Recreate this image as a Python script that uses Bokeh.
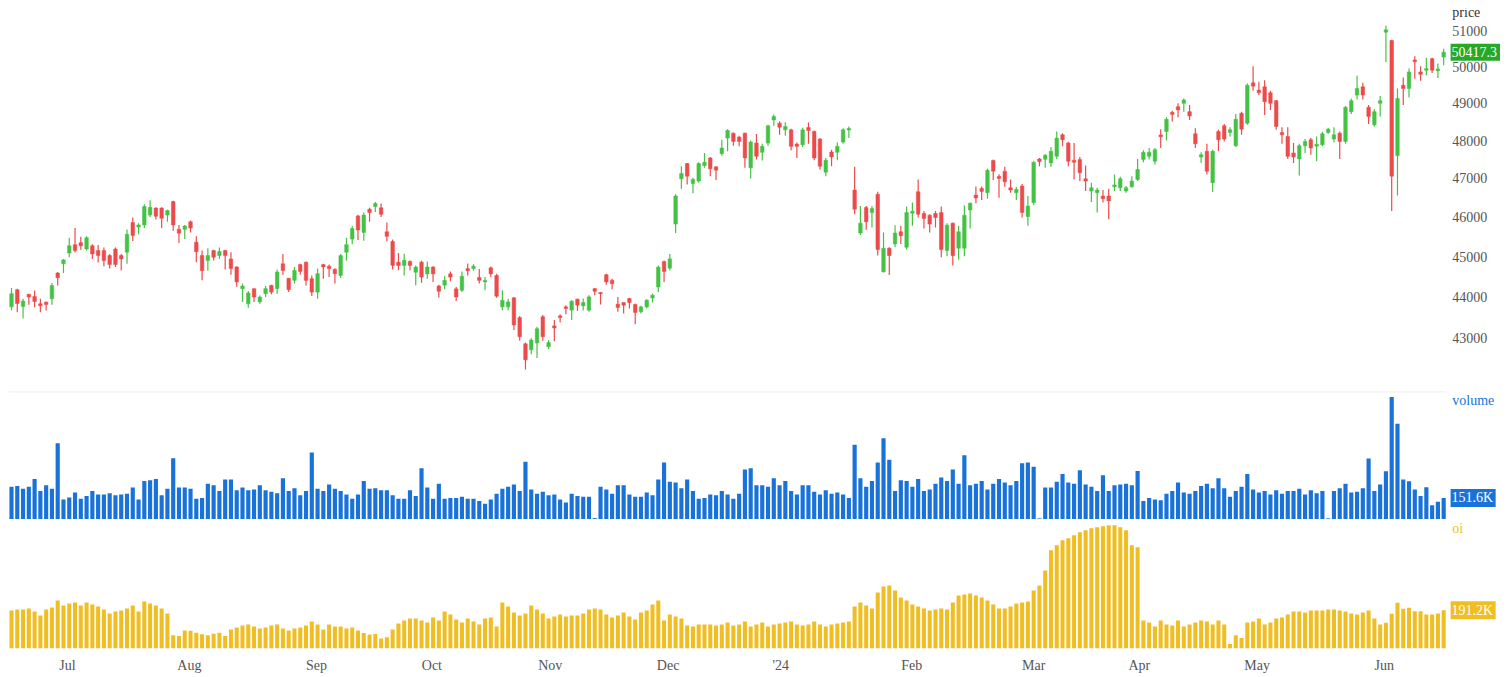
from bokeh.plotting import figure
from bokeh.layouts import column
from bokeh.models import Range1d, FixedTicker, ColumnDataSource
from bokeh.core.properties import value
from bokeh.embed import file_html
from bokeh.resources import INLINE

# ---------------- data ----------------
opens = [
    43760, 44180, 43770, 44065, 44015, 43835, 43875, 43960, 44590, 44820,
    45090, 45300, 45350, 45190, 45270, 45150, 45150, 45025, 45190, 45025,
    45110, 45860, 45745, 45800, 46050, 46230, 46230, 46050, 46400, 45690,
    45690, 45880, 45360, 45025, 44900, 45150, 45025, 45150, 44940, 44740,
    44205, 43835, 44205, 43880, 44080, 44285, 44205, 44820, 44460, 44410,
    44800, 44860, 44450, 44120, 44800, 44760, 44680, 44530, 45110, 45440,
    46030, 45610, 46200, 46270, 46240, 45625, 45380, 44860, 44780, 44880,
    44610, 44860, 44570, 44740, 44270, 44290, 44570, 44200, 44165, 44700,
    44700, 44480, 44370, 44720, 44530, 43760, 43760, 43980, 43500, 42870,
    42730, 42890, 43520, 42800, 43300, 43540, 43760, 43680, 43946, 43784,
    43680, 44205, 44110, 44548, 44410, 43825, 43865, 43962, 43817, 43640,
    43760, 43978, 44246, 44877, 44712, 45820, 46989, 47389, 46868, 46929,
    47337, 47537, 47302, 47650, 48064, 48197, 48091, 48197, 47276, 47932,
    47686, 47932, 48553, 48464, 48286, 48286, 47905, 47888, 48348, 48242,
    48038, 47163, 47694, 47686, 47958, 48280, 46696, 45593, 46243, 46115,
    46584, 44620, 45209, 45318, 45626, 45234, 46100, 46653, 46090, 46048,
    46090, 46115, 45151, 45845, 45209, 45209, 46183, 46567, 46739, 46627,
    47467, 47050, 47189, 46756, 46627, 46799, 46013, 46371, 47511, 47502,
    47406, 47580, 48153, 47932, 47476, 47493, 46989, 46670, 46627, 46541,
    46541, 46780, 46756, 46670, 46782, 46972, 47493, 47580, 47450, 48150,
    48242, 48760, 48912, 49002, 48777, 48179, 47563, 47712, 46886, 48242,
    48393, 48215, 47861, 48732, 48464, 49564, 49364, 49455, 49292, 49074,
    48215, 48109, 47667, 47511, 47862, 48020, 47850, 47888, 48215, 48038,
    48197, 47976, 48777, 49228, 49455, 48893, 48420, 49002, 50981, 50746,
    47600, 49500, 49410, 50200, 49866, 49912, 50235, 49900, 50280,
]
highs = [
    44220, 44205, 43960, 44080, 44160, 43960, 43890, 44345, 44615, 44940,
    45475, 45720, 45500, 45515, 45310, 45290, 45230, 45065, 45230, 45065,
    45680, 45990, 45840, 46330, 46430, 46250, 46250, 46190, 46420, 45800,
    45800, 45910, 45510, 45150, 45210, 45170, 45230, 45170, 45110, 44760,
    44330, 44150, 44210, 44040, 44270, 44300, 44680, 45065, 44470, 44740,
    44820, 44880, 44530, 44700, 44820, 44800, 44710, 45065, 45475, 45770,
    46060, 46115, 46240, 46390, 46350, 45860, 45430, 45090, 45070, 44900,
    44780, 44900, 44880, 44760, 44300, 44510, 44630, 44245, 44630, 44830,
    44810, 44690, 44490, 44750, 44570, 44165, 43960, 44000, 43540, 42900,
    43000, 43280, 43560, 42960, 43440, 43580, 43800, 43920, 43962, 43962,
    44043, 44220, 44125, 44572, 44450, 44003, 43865, 43978, 43841, 43784,
    43946, 44083, 44778, 44902, 45067, 46584, 47319, 47406, 47015, 47424,
    47667, 47563, 47319, 48020, 48304, 48215, 48126, 48215, 48003, 48171,
    47914, 48420, 48697, 48518, 48491, 48313, 47950, 48340, 48482, 48268,
    48064, 47537, 47756, 47950, 48331, 48375, 47302, 46285, 46285, 46285,
    46653, 45609, 45234, 45794, 45777, 46268, 46371, 46972, 46158, 46073,
    46158, 46268, 45845, 45862, 45777, 46302, 46371, 46790, 46790, 47250,
    47493, 47110, 47302, 46972, 46782, 46851, 46541, 47450, 47537, 47641,
    47827, 48242, 48197, 47967, 47932, 47563, 47337, 46886, 46756, 46696,
    46730, 47102, 47041, 46799, 47058, 47511, 47739, 47800, 47800, 48304,
    48625, 48804, 49002, 49137, 48957, 48331, 47686, 47914, 47756, 48286,
    48446, 48357, 48714, 48777, 49546, 50025, 49591, 49637, 49346, 49092,
    48357, 48357, 47932, 47914, 48038, 48064, 48109, 48233, 48340, 48357,
    48242, 48929, 49137, 49760, 49564, 48957, 48840, 49200, 51172, 50765,
    49410, 49710, 49958, 50300, 50025, 50263, 50263, 50100, 50512,
]
lows = [
    43680, 43630, 43480, 43810, 43750, 43630, 43670, 43810, 44285, 44590,
    44985, 45100, 45170, 45150, 44940, 44850, 44760, 44700, 44740, 44655,
    44820, 45390, 45560, 45720, 46000, 45940, 45720, 45880, 45650, 45340,
    45440, 45610, 44860, 44410, 44650, 44900, 44940, 44680, 44550, 44250,
    43880, 43740, 43880, 43835, 44000, 44065, 44080, 44550, 44120, 44330,
    44550, 44285, 44025, 43960, 44450, 44490, 44330, 44470, 44900, 45310,
    45420, 45400, 45880, 46130, 46000, 45380, 44680, 44660, 44530, 44660,
    44290, 44350, 44450, 44370, 43980, 44190, 44390, 43900, 44120, 44530,
    44650, 44330, 44165, 44490, 43980, 43680, 43680, 43200, 42940, 42260,
    42620, 42530, 42940, 42740, 42930, 43380, 43580, 43440, 43664, 43672,
    43640, 44043, 43816, 44303, 44190, 43640, 43600, 43720, 43336, 43600,
    43720, 43865, 44124, 44369, 44655, 45593, 46730, 46843, 46610, 46886,
    47276, 47058, 46955, 47597, 47712, 47861, 47844, 47276, 46997, 47493,
    47467, 47861, 48393, 48153, 48126, 47739, 47537, 47827, 47914, 47476,
    47232, 47058, 47319, 47476, 47914, 48064, 46073, 45543, 45676, 45735,
    45026, 44605, 44539, 45234, 45318, 45175, 45777, 45989, 45710, 45609,
    45735, 44984, 45009, 44778, 44927, 45009, 45710, 46354, 46439, 46473,
    46955, 46499, 46782, 46627, 46439, 45989, 45777, 46302, 47319, 47276,
    47302, 47511, 47844, 47319, 46972, 46929, 46670, 46388, 46115, 46371,
    45946, 46670, 46670, 46627, 46756, 46929, 47424, 47493, 47363, 47800,
    48003, 48509, 48625, 48777, 48553, 47800, 47406, 47102, 46644, 47712,
    47976, 48109, 47827, 48153, 48420, 49346, 49228, 48688, 48822, 48286,
    47914, 47511, 47406, 47076, 47667, 47624, 47450, 47844, 48180, 47950,
    47511, 47914, 48714, 49110, 49110, 48446, 48375, 48643, 50141, 46157,
    46558, 48957, 49164, 49680, 49619, 49774, 49839, 49700, 50050,
]
closes = [
    44080, 43840, 43900, 44000, 43890, 43785, 43820, 44285, 44475, 44915,
    45270, 45150, 45270, 45475, 45065, 45025, 44900, 44800, 44800, 44940,
    45560, 45530, 45800, 46270, 46250, 46020, 45970, 46170, 45800, 45590,
    45770, 45720, 45120, 44650, 45025, 44985, 45125, 45025, 44700, 44370,
    44270, 44100, 44000, 44000, 44205, 44120, 44615, 44655, 44180, 44655,
    44630, 44410, 44120, 44575, 44740, 44700, 44575, 45025, 45300, 45710,
    45670, 46050, 46115, 46345, 46070, 45510, 44780, 44780, 44910, 44780,
    44740, 44490, 44740, 44570, 44140, 44410, 44490, 44000, 44510, 44650,
    44760, 44410, 44410, 44570, 44020, 43920, 43880, 43320, 43040, 42490,
    42960, 43230, 43040, 42900, 43250, 43500, 43720, 43897, 43800, 43865,
    44003, 44140, 44080, 44369, 44328, 43744, 43800, 43865, 43624, 43760,
    43922, 44043, 44737, 44630, 44943, 46541, 47128, 47058, 46972, 47389,
    47424, 47250, 47215, 47800, 48268, 47976, 47976, 47537, 47958, 47580,
    47844, 48393, 48643, 48357, 48375, 47844, 47844, 48286, 48268, 47537,
    47319, 47476, 47563, 47844, 48286, 48320, 46200, 45845, 45879, 46217,
    45175, 45209, 45026, 45593, 45526, 46115, 46150, 46073, 45964, 45820,
    45989, 45175, 45794, 45026, 45626, 46048, 46354, 46490, 46661, 47215,
    47189, 47000, 46912, 46696, 46713, 46115, 46285, 47424, 47441, 47607,
    47712, 48064, 48020, 47450, 47424, 47146, 46929, 46756, 46696, 46473,
    46414, 46830, 46989, 46756, 46929, 47232, 47686, 47686, 47756, 48100,
    48571, 48700, 48822, 49092, 48660, 47914, 47624, 47189, 47712, 48020,
    48038, 48286, 48571, 48304, 49500, 49473, 49292, 49047, 49002, 48375,
    48153, 47580, 47563, 47862, 47976, 47800, 47900, 48179, 48304, 48153,
    47976, 48893, 49074, 49410, 49228, 48643, 48777, 49074, 51047, 47058,
    49137, 49410, 49866, 50150, 49800, 49958, 49912, 49950, 50417.3,
]
volume_k = [
    230, 235, 215, 230, 285, 200, 240, 215, 535, 140,
    155, 190, 145, 165, 200, 175, 175, 185, 170, 175,
    180, 225, 140, 270, 275, 285, 170, 215, 430, 225,
    225, 215, 145, 150, 250, 240, 200, 280, 280, 205,
    225, 205, 210, 240, 205, 195, 185, 290, 200, 220,
    170, 200, 470, 215, 200, 245, 215, 200, 175, 145,
    175, 270, 215, 220, 205, 205, 170, 145, 145, 205,
    165, 360, 225, 145, 250, 145, 150, 150, 160, 145,
    145, 130, 110, 140, 180, 215, 230, 245, 200, 405,
    210, 180, 195, 170, 175, 140, 120, 180, 165, 160,
    160, 10, 230, 210, 180, 240, 240, 175, 160, 160,
    190, 170, 280, 400, 265, 260, 220, 280, 200, 145,
    150, 175, 170, 200, 175, 145, 180, 350, 360, 240,
    240, 230, 290, 240, 270, 200, 175, 240, 240, 195,
    175, 205, 180, 190, 175, 150, 525, 290, 230, 270,
    400, 570, 420, 200, 275, 270, 230, 285, 200, 210,
    250, 295, 270, 350, 250, 450, 240, 250, 270, 210,
    250, 285, 260, 240, 270, 395, 400, 370, 8, 225,
    225, 265, 320, 260, 250, 345, 245, 230, 200, 310,
    200, 240, 245, 250, 240, 340, 130, 150, 140, 135,
    180, 200, 260, 190, 180, 200, 235, 250, 220, 290,
    220, 160, 200, 230, 320, 210, 190, 200, 175, 205,
    180, 200, 200, 215, 175, 205, 185, 200, 8, 200,
    220, 250, 190, 195, 220, 428, 200, 246, 339, 859,
    671, 281, 269, 211, 164, 227, 100, 124, 151.6,
]
oi_k = [
    190, 195, 195, 200, 185, 165, 195, 205, 240, 215,
    225, 230, 215, 230, 220, 210, 195, 175, 185, 190,
    200, 215, 185, 235, 225, 215, 200, 175, 66, 62,
    90, 88, 79, 71, 66, 74, 79, 62, 95, 105,
    115, 120, 110, 100, 105, 115, 120, 100, 90, 100,
    105, 115, 135, 120, 95, 120, 110, 110, 100, 105,
    90, 78, 70, 72, 50, 56, 95, 125, 140, 150,
    150, 140, 130, 155, 140, 185, 170, 145, 130, 150,
    135, 120, 150, 155, 110, 230, 210, 180, 165, 175,
    215, 195, 175, 150, 160, 170, 160, 165, 165, 175,
    195, 200, 195, 170, 155, 165, 180, 160, 145, 180,
    190, 220, 240, 140, 170, 160, 150, 115, 110, 120,
    120, 120, 115, 120, 130, 115, 120, 135, 110, 120,
    130, 110, 120, 125, 130, 135, 120, 115, 120, 135,
    120, 110, 120, 125, 130, 135, 210, 230, 215, 200,
    280, 310, 315, 290, 255, 240, 220, 210, 200, 190,
    195, 200, 195, 230, 265, 270, 275, 265, 255, 240,
    220, 200, 200, 210, 225, 230, 235, 290, 315, 390,
    490, 515, 540, 550, 565, 580, 590, 600, 605, 610,
    615, 615, 605, 590, 515, 505, 140, 130, 110, 140,
    120, 115, 140, 110, 120, 130, 140, 135, 120, 140,
    120, 23, 66, 53, 130, 135, 150, 120, 130, 150,
    155, 170, 185, 185, 180, 190, 190, 190, 195, 195,
    190, 185, 175, 170, 180, 190, 150, 120, 128, 173,
    228, 198, 203, 186, 186, 170, 170, 175, 191.2,
]
month_labels = ["Jul", "Aug", "Sep", "Oct", "Nov", "Dec", "'24", "Feb", "Mar", "Apr", "May", "Jun"]
month_pos = [9.7, 30.8, 52.8, 72.8, 93.3, 113.7, 133.2, 155.9, 177.0, 195.3, 215.7, 237.7]
price_ticks = [43000, 44000, 45000, 46000, 47000, 48000, 49000, 50000, 51000]
price_tick_labels = ["43000", "44000", "45000", "46000", "47000", "48000", "49000", "50000", "51000"]
last_price_label = "50417.3"
last_volume_label = "151.6K"
last_oi_label = "191.2K"

# ---------------- styling ----------------
GREEN = "#45c245"
RED = "#ec4b4b"
BLUE = "#1872d9"
YELLOW = "#f0be22"
BOXGREEN = "#27a827"
FONT = value("Liberation Serif")
GRAY = "#555555"

N = min(len(opens), len(highs), len(lows), len(closes), len(volume_k), len(oi_k))
idx = list(range(N))
o = opens[:N]; h = highs[:N]; l = lows[:N]; c = closes[:N]
colors = [GREEN if cc >= oo else RED for oo, cc in zip(o, c)]
src = ColumnDataSource(dict(
    x=idx, h=h, l=l,
    top=[max(a, b) for a, b in zip(o, c)],
    bot=[min(a, b) for a, b in zip(o, c)],
    color=colors,
    vol=volume_k[:N], oi=oi_k[:N],
))

# x: bar index; the frame spans the whole width so that the right-hand
# value column (axis titles, tick values, last-value boxes) is inside it.
X_END_BARS = 248.5
xr = Range1d(-0.52, 257.84)
X_LAB = 249.5          # left edge of right-hand text column
X_BOX = 249.2

common = dict(frame_width=1492, x_range=xr, output_backend="svg", toolbar_location=None,
              min_border_left=8, min_border_right=0, min_border_bottom=0,
              outline_line_color=None, background_fill_color="white", border_fill_color="white")

# ---- price panel ----
p = figure(frame_height=383, y_range=Range1d(41748, 51656), y_axis_type="log",
           y_axis_location=None, x_axis_location=None, min_border_top=8, **common)
p.grid.visible = False
p.segment(x0="x", y0="h", x1="x", y1="l", line_color="color", line_width=1.2, source=src)
p.vbar(x="x", width=0.62, top="top", bottom="bot", fill_color="color", line_color="color",
       line_width=0.5, source=src)
p.text(x=[X_LAB] * len(price_ticks), y=price_ticks, text=price_tick_labels,
       text_font=FONT, text_font_size="14px", text_color=GRAY,
       text_baseline="middle", text_align="left")
p.text(x=[X_LAB], y=[51541], text=["price"], text_font=FONT, text_font_size="14px",
       text_color="#333333", text_baseline="middle", text_align="left")
p.rect(x=[253.6], y=[closes[N - 1]], width=8.8, height=17, height_units="screen",
       fill_color=BOXGREEN, line_color=None)
p.text(x=[X_BOX + 0.15], y=[closes[N - 1]], text=[last_price_label], text_font=FONT,
       text_font_size="14px", text_color="white", text_baseline="middle", text_align="left")

# ---- volume panel ----
pv = figure(frame_height=128, y_range=Range1d(0, 898), y_axis_location=None,
            x_axis_location=None, min_border_top=0, **common)
pv.grid.visible = False
pv.vbar(x="x", width=0.72, top="vol", bottom=0, fill_color=BLUE, line_color=None, source=src)
pv.segment(x0=[-0.6], y0=[896], x1=[X_END_BARS], y1=[896], line_color="#e4e4e4", line_width=1)
pv.text(x=[X_LAB], y=[835], text=["volume"], text_font=FONT, text_font_size="14px",
        text_color=BLUE, text_baseline="middle", text_align="left")
pv.rect(x=[253.1], y=[volume_k[N - 1]], width=7.8, height=18, height_units="screen",
        fill_color=BLUE, line_color=None)
pv.text(x=[X_BOX + 0.15], y=[volume_k[N - 1]], text=[last_volume_label], text_font=FONT,
        text_font_size="14px", text_color="white", text_baseline="middle", text_align="left")

# ---- open interest panel ----
po = figure(frame_height=129, y_range=Range1d(0, 644), y_axis_location=None,
            min_border_top=0, **common)
po.grid.visible = False
po.vbar(x="x", width=0.7, top="oi", bottom=0, fill_color=YELLOW, line_color=None, source=src)
po.text(x=[X_LAB], y=[599], text=["oi"], text_font=FONT, text_font_size="14px",
        text_color=YELLOW, text_baseline="middle", text_align="left")
po.rect(x=[253.1], y=[oi_k[N - 1]], width=7.8, height=18, height_units="screen",
        fill_color=YELLOW, line_color=None)
po.text(x=[X_BOX + 0.15], y=[oi_k[N - 1]], text=[last_oi_label], text_font=FONT,
        text_font_size="14px", text_color="white", text_baseline="middle", text_align="left")
ax = po.xaxis[0]
ax.ticker = FixedTicker(ticks=month_pos)
ax.major_label_overrides = {pos: lab for pos, lab in zip(month_pos, month_labels)}
ax.axis_line_color = None
ax.major_tick_line_color = None
ax.minor_tick_line_color = None
ax.major_tick_out = 0
ax.major_tick_in = 0
ax.major_label_standoff = 9
ax.major_label_text_font = "Liberation Serif"
ax.major_label_text_font_size = "14px"
ax.major_label_text_color = GRAY

layout = column(p, pv, po, spacing=0)
open("out.html", "w").write(file_html(layout, INLINE))
